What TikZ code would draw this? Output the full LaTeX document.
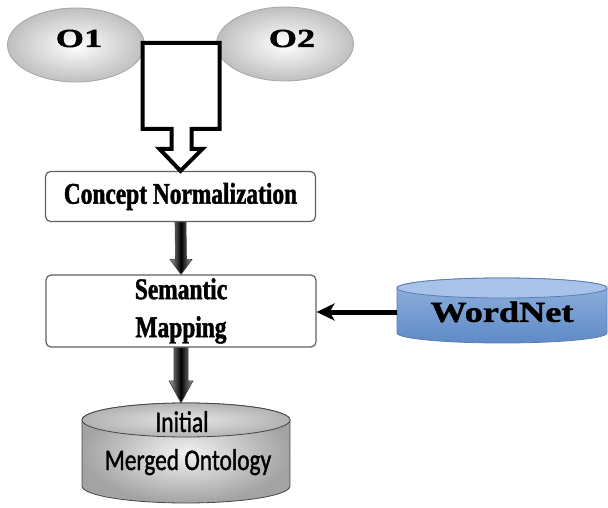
\documentclass[tikz,border=0pt]{standalone}
\usepackage{fontspec}
\usetikzlibrary{calc,shapes.geometric,arrows.meta}
\newfontfamily\cserif[FakeStretch=0.78,FakeBold=1.5]{Liberation Serif}
\newfontfamily\wserif[FakeStretch=1.25,FakeBold=1.5]{Liberation Serif}
\newfontfamily\oserif[FakeStretch=1.4,FakeBold=1.5]{Liberation Serif}
\newfontfamily\csans[FakeStretch=0.78,FakeBold=1.2]{Carlito}
\definecolor{wnlight}{HTML}{A9C3E8}
\definecolor{wnmid}{HTML}{93B3E0}
\definecolor{wndark}{HTML}{5F8AC6}
\definecolor{wnline}{HTML}{5A7DB3}
\begin{document}
\begin{tikzpicture}[x=1pt,y=-1pt,
  ell/.style={ellipse, draw=gray!70, line width=0.8pt, inner color=white, outer color=gray!50,
    minimum width=137pt, minimum height=74pt, inner sep=0pt},
  otext/.style={font=\oserif\bfseries\fontsize{26}{30}\selectfont, inner sep=0pt},
  proc/.style={draw=gray!75!black, line width=1.2pt, rounded corners=5pt, fill=white,
    minimum width=270pt, inner sep=0pt, align=center,
    font=\cserif\bfseries\fontsize{30}{38}\selectfont},
  hollow/.style={draw=black, line width=4pt, fill=white, miter limit=10},
  garrow/.style={draw=black!75, line width=0.6pt, left color=gray!75, right color=gray!75, middle color=black},
  cyltext/.style={font=\csans\fontsize{30}{38}\selectfont, inner sep=0pt},
  wntext/.style={font=\wserif\bfseries\fontsize{29}{34}\selectfont, inner sep=0pt},
]
\useasboundingbox (0,0) rectangle (608,508);

% source ontologies
\node[ell] (o1) at (76,45) {};
\node[ell] (o2) at (285,44) {};
\node[otext, anchor=base] (o1t) at (79,47) {O1};
\node[otext, anchor=base] (o2t) at (292,47) {O2};

% process boxes
\node[proc, minimum height=50pt] (cn) at (180.5,196.5) {Concept Normalization};
\node[proc, minimum height=72pt] (sm) at (181,311) {Semantic\\Mapping};

% hollow block arrow from the ontologies to Concept Normalization
\draw[hollow] (cn.north) -- ++(22,-22) -- ++(-11,0) -- ++(0,-20) -- ++(28,0)
  -- ++(0,-86) -- ++(-77,0) -- ++(0,86) -- ++(29,0) -- ++(0,20) -- ++(-12,0) -- cycle;

% shaded arrow Concept Normalization -> Semantic Mapping
\path[garrow] ($(cn.south)+(-5.5,0)$) -- ($(sm.north)+(-5.5,-15)$) -- ($(sm.north)+(-11,-15)$)
  -- (sm.north) -- ($(sm.north)+(11,-15)$) -- ($(sm.north)+(5.5,-15)$) -- ($(cn.south)+(5.5,0)$) -- cycle;

% WordNet cylinder
\path[draw=wnline, line width=0.8pt, top color=wnmid, bottom color=wndark]
  (397,288) -- (397,333) arc[start angle=180, end angle=360, x radius=105pt, y radius=10pt]
  -- (607,288) arc[start angle=0, end angle=180, x radius=105pt, y radius=10pt] -- cycle;
\draw[wnline, line width=0.8pt, fill=wnlight] (502,288) ellipse [x radius=105pt, y radius=10pt];
\node[wntext, minimum width=210pt, minimum height=56pt] (wn) at (502,312) {WordNet};
\draw[line width=5pt, -{Stealth[length=18pt, width=17pt, inset=5pt]}] (wn.west) -- (wn.west -| sm.east);

% merged ontology cylinder
\path[draw=gray!55!black, line width=0.8pt, inner color=gray!10, outer color=gray!72]
  (82,420) -- (82,486) arc[start angle=180, end angle=360, x radius=104pt, y radius=17pt]
  -- (290,420) arc[start angle=0, end angle=180, x radius=104pt, y radius=17pt] -- cycle;
\path[draw=gray!55!black, line width=0.8pt, inner color=gray!20, outer color=gray!60]
  (186,420) ellipse [x radius=104pt, y radius=17pt];
\node[minimum width=208pt, minimum height=100pt, inner sep=0pt] (mo) at (186,453) {};
\node[cyltext, anchor=base] (mot1) at (182,432) {Initial};
\node[cyltext, anchor=base] (mot2) at (188,470) {Merged Ontology};

% shaded arrow Semantic Mapping -> merged ontology
\coordinate (a2) at (sm.south |- mo.north);
\path[garrow] ($(sm.south)+(-7,0)$) -- ($(a2)+(-7,-22)$) -- ($(a2)+(-12,-22)$)
  -- (a2) -- ($(a2)+(12,-22)$) -- ($(a2)+(7,-22)$) -- ($(sm.south)+(7,0)$) -- cycle;
\end{tikzpicture}
\end{document}
